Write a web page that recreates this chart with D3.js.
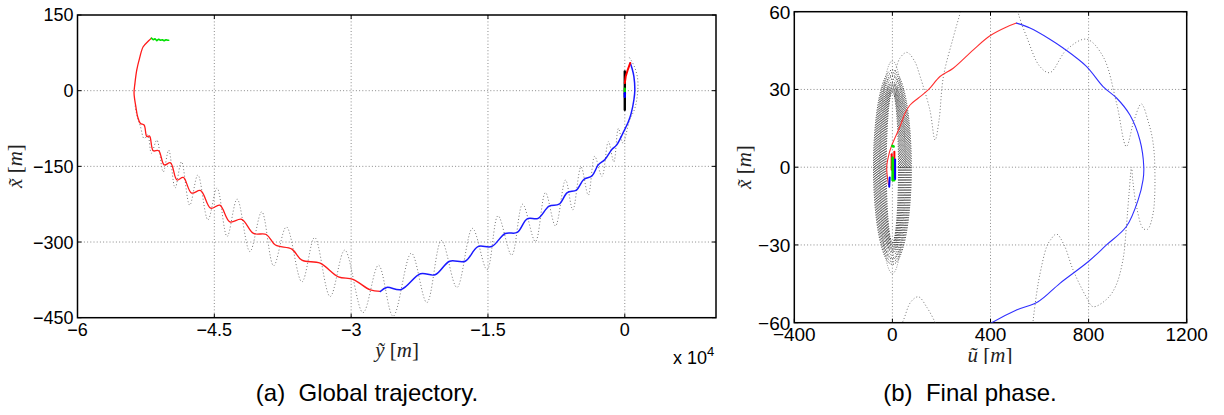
<!DOCTYPE html>
<html><head><meta charset="utf-8">
<script src="https://cdn.jsdelivr.net/npm/d3@7"></script>
<style>body{margin:0;background:#fff}svg{display:block}</style>
</head><body>
<svg id="c" width="1224" height="415"></svg>
<script>
// ---------- data: (a) global trajectory  [ỹ in 1e4 m, x̃ in m] ----------
const globalXTicks = [-6, -4.5, -3, -1.5, 0];
const globalYTicks = [150, 0, -150, -300, -450];
const globalGreen = [[-5.19,104],[-5.17,101],[-5.15,103],[-5.13,99],[-5.11,102],[-5.09,100],[-5.07,101],[-5.05,99],[-5.03,101],[-5.01,100],[-5.0,100]];
const globalRed = [[-5.19,104],[-5.22,99],[-5.28,87],[-5.32,64],[-5.35,41],[-5.37,15],[-5.38,-5],[-5.36,-32],[-5.34,-52],[-5.31,-65],[-5.27,-68],[-5.24,-91],[-5.21,-90],[-5.17,-119],[-5.11,-119],[-5.05,-147],[-4.98,-143],[-4.91,-177],[-4.84,-172],[-4.75,-203],[-4.65,-198],[-4.54,-233],[-4.44,-227],[-4.33,-260],[-4.20,-255],[-4.07,-283],[-3.93,-285],[-3.83,-306],[-3.65,-314],[-3.54,-336],[-3.34,-342],[-3.14,-369],[-2.98,-374],[-2.79,-395],[-2.68,-398]];
const globalBlue = [[-2.68,-398],[-2.61,-390],[-2.45,-394],[-2.24,-363],[-2.08,-365],[-1.92,-338],[-1.75,-338],[-1.61,-309],[-1.46,-309],[-1.31,-283],[-1.18,-281],[-1.07,-254],[-0.95,-253],[-0.83,-229],[-0.72,-225],[-0.63,-202],[-0.53,-197],[-0.45,-176],[-0.36,-169],[-0.29,-147],[-0.22,-137],[-0.14,-116],[-0.09,-108],[-0.02,-84],[0.04,-61],[0.07,-45],[0.10,-18],[0.11,1],[0.10,28],[0.08,44],[0.06,55]];
const globalRedEnd = [[0.06,55],[0.03,40],[0.01,28],[0.0,15]];
const globalBlack = [[0,38],[0,-38]];
const globalGreenEnd = [[0,4],[0,-1]];
const globalBlueEnd = [[0,-5],[0,-12]];
const globalRef = [[-5.37,-30],[-5.34,-55],[-5.31,-71],[-5.27,-95],[-5.23,-88],[-5.19,-124],[-5.13,-98],[-5.06,-161],[-5.00,-118],[-4.93,-193],[-4.86,-141],[-4.77,-227],[-4.68,-167],[-4.57,-256],[-4.47,-193],[-4.36,-289],[-4.25,-215],[-4.11,-319],[-3.98,-240],[-3.85,-347],[-3.71,-270],[-3.54,-379],[-3.40,-291],[-3.23,-408],[-3.07,-316],[-2.87,-440],[-2.70,-346],[-2.54,-447],[-2.34,-322],[-2.17,-420],[-2.01,-297],[-1.84,-390],[-1.67,-273],[-1.51,-355],[-1.39,-248],[-1.24,-326],[-1.12,-225],[-0.98,-299],[-0.87,-202],[-0.76,-268],[-0.65,-177],[-0.57,-236],[-0.48,-151],[-0.40,-207],[-0.33,-130],[-0.25,-170],[-0.18,-101],[-0.12,-141],[-0.07,-75],[-0.02,-104],[0.05,-60],[0.11,-35],[0.14,-5],[0.14,25],[0.10,50],[0.05,66]];

// ---------- data: (b) final phase  [ũ in m, x̃ in m] ----------
const finalXTicks = [-400, 0, 400, 800, 1200];
const finalYTicks = [60, 30, 0, -30, -60];
const finalRed = [[-16,-6.8],[-23,0.2],[-13,5.4],[-3,8.3],[31,15.7],[52,20.9],[72,24],[106,26.7],[147,29.9],[194,35],[248,38.2],[330,45.3],[398,50.7],[466,54.1],[506,55.6]];
const finalBlue = [[506,55.6],[561,53.7],[642,49.4],[696,46],[791,38.9],[859,31.1],[914,26.7],[968,20.2],[1009,10.5],[1025,0.2],[1022,-4.9],[1002,-12.6],[954,-22.9],[873,-30],[798,-36.5],[683,-44.8],[594,-51.9],[506,-55.1],[405,-60],[380,-61.5]];
const clusterRed = [[[8,6],[8,-4]],[[-3,5],[-3,-1]]];
const clusterGreen = [[[0,8.2],[5,8]],[[1,3.6],[1,-4.9]],[[3,-5],[7,-5]]];
const clusterBlue = [[[11,3],[11,-4.6]],[[-13,-7.5],[-11,-4]]];
const refB = [[10,36],[30,42],[59,44.3],[90,41],[113,35],[153,22],[174,10.5],[190,18],[208,35],[248,50],[276,59.5],[285,63]];
const refC = [[505,64],[513,59.5],[547,50.4],[601,38.9],[642,36.5],[710,45.3],[791,49.4],[859,42.7],[914,24.7],[954,8],[985,18],[1015,24.4],[1045,17],[1062,10],[1070,0],[1063,-17.8],[1040,-24],[1022,-23.6],[995,-15],[980,-5],[975,0],[965,-10],[954,-23],[940,-35.8],[910,-46],[873,-51],[818,-53.8],[790,-50],[737,-39.7],[700,-30],[669,-25.8],[645,-28],[629,-30.7],[600,-42],[588,-48.7],[574,-59],[570,-63]];
const refF = [[25,-63],[45,-59],[75,-52],[106,-50],[140,-54],[174,-60],[182,-63]];
const loopRx = [25,29,33,37,41,45,49,53,57,61,65,69,73,77,52];
const loopRy = [29,29.5,30,30.5,31,31.5,32,32.5,33,34,35,35.5,36.5,37.5,41];

// ---------- drawing ----------
const svg = d3.select("#c");
const SANS = "'Liberation Sans', Arial, Helvetica, sans-serif";
const SERIF = "'Liberation Serif', 'DejaVu Serif', serif";
const fmt = v => String(v).replace("-", "\u2212");

function panel(opt) {
  const {id, left, top, right, bottom, xd, yd, xt, yt, fs} = opt;
  const x = d3.scaleLinear().domain(xd).range([left, right]);
  const y = d3.scaleLinear().domain(yd).range([bottom, top]);
  const g = svg.append("g");
  g.append("clipPath").attr("id", id).append("rect")
    .attr("x", left).attr("y", top).attr("width", right - left).attr("height", bottom - top);
  g.selectAll(null).data(xt.filter(v => v > xd[0] && v < xd[1])).join("line")
    .attr("x1", d => x(d)).attr("x2", d => x(d)).attr("y1", top).attr("y2", bottom)
    .attr("stroke", "#8a8a8a").attr("stroke-width", 1).attr("stroke-dasharray", "1,2.2");
  g.selectAll(null).data(yt.filter(v => v > yd[0] && v < yd[1])).join("line")
    .attr("y1", d => y(d)).attr("y2", d => y(d)).attr("x1", left).attr("x2", right)
    .attr("stroke", "#8a8a8a").attr("stroke-width", 1).attr("stroke-dasharray", "1,2.2");
  const tl = 4;
  xt.forEach(v => {
    g.append("line").attr("x1", x(v)).attr("x2", x(v)).attr("y1", bottom).attr("y2", bottom - tl).attr("stroke", "#000");
    g.append("line").attr("x1", x(v)).attr("x2", x(v)).attr("y1", top).attr("y2", top + tl).attr("stroke", "#000");
  });
  yt.forEach(v => {
    g.append("line").attr("y1", y(v)).attr("y2", y(v)).attr("x1", left).attr("x2", left + tl).attr("stroke", "#000");
    g.append("line").attr("y1", y(v)).attr("y2", y(v)).attr("x1", right).attr("x2", right - tl).attr("stroke", "#000");
  });
  g.selectAll(null).data(xt).join("text")
    .attr("x", d => x(d)).attr("y", bottom + 5 + fs * 0.72)
    .attr("text-anchor", "middle").attr("font-family", SANS).attr("font-size", fs).text(fmt);
  g.selectAll(null).data(yt).join("text")
    .attr("x", left - 4).attr("y", d => y(d) + fs * 0.36)
    .attr("text-anchor", "end").attr("font-family", SANS).attr("font-size", fs).text(fmt);
  const plot = svg.append("g").attr("clip-path", `url(#${id})`);
  return {x, y, g, plot};
}

function lineOn(P, data, color, w, curve, dash) {
  const gen = d3.line().x(d => P.x(d[0])).y(d => P.y(d[1])).curve(curve || d3.curveLinear);
  const p = P.plot.append("path").attr("d", gen(data)).attr("fill", "none")
    .attr("stroke", color).attr("stroke-width", w).attr("stroke-linejoin", "round").attr("stroke-linecap", "round");
  if (dash) p.attr("stroke-dasharray", dash).attr("stroke-linecap", "butt");
  return p;
}

function axLabel(sel, x, y, letter, rotate, fs) {
  const t = sel.append("text").attr("font-family", SERIF).attr("font-size", fs)
    .attr("text-anchor", "middle").attr("fill", "#222");
  if (rotate) t.attr("transform", `translate(${x},${y}) rotate(-90)`);
  else t.attr("x", x).attr("y", y);
  t.append("tspan").attr("font-style", "italic").text(letter + "\u0303");
  t.append("tspan").text(" [");
  t.append("tspan").attr("font-style", "italic").text("m");
  t.append("tspan").text("]");
  return t;
}

// ---- panel (a) ----
const A = panel({id: "ca", left: 77.5, top: 15, right: 716, bottom: 317.7,
  xd: [-6, 1], yd: [-450, 150], xt: globalXTicks, yt: globalYTicks, fs: 18});
lineOn(A, globalRef, "#777", 1, d3.curveCatmullRom.alpha(0.5), "1,2.2");
lineOn(A, globalRed, "#ff1a1a", 1.3, d3.curveCatmullRom.alpha(0.5));
lineOn(A, globalGreen, "#00e000", 1.6);
lineOn(A, globalBlue, "#1a1aff", 1.5, d3.curveCatmullRom.alpha(0.5));
lineOn(A, globalBlack, "#000", 2.4);
lineOn(A, globalRedEnd, "#ff0000", 2);
lineOn(A, globalGreenEnd, "#00d000", 2.4);
lineOn(A, globalBlueEnd, "#0000ff", 2.4);
A.g.append("rect").attr("x", 77.5).attr("y", 15).attr("width", 716 - 77.5).attr("height", 317.7 - 15)
  .attr("fill", "none").attr("stroke", "#000").attr("stroke-width", 1.5);
axLabel(A.g, 397, 357, "y", false, 21);
axLabel(A.g, 22, 166, "x", true, 21);
const sx = A.g.append("text").attr("x", 673).attr("y", 364).attr("font-family", SANS).attr("font-size", 18);
sx.append("tspan").text("x 10");
sx.append("tspan").attr("dy", -8).attr("font-size", 13).text("4");
svg.append("text").attr("x", 367).attr("y", 401).attr("text-anchor", "middle")
  .attr("font-family", SANS).attr("font-size", 24).attr("xml:space", "preserve").text("(a)  Global trajectory.");

// ---- panel (b) ----
const B = panel({id: "cb", left: 794.3, top: 11.7, right: 1186.7, bottom: 322.7,
  xd: [-400, 1200], yd: [-60, 60], xt: finalXTicks, yt: finalYTicks, fs: 19});
B.plot.selectAll(null).data(loopRx).join("ellipse")
  .attr("cx", B.x(0)).attr("cy", B.y(0))
  .attr("rx", d => B.x(d) - B.x(0)).attr("ry", (d, i) => B.y(0) - B.y(loopRy[i]))
  .attr("fill", "none").attr("stroke", (d, i) => i === loopRx.length - 1 ? "#888" : "#222")
  .attr("stroke-width", 1).attr("stroke-dasharray", "1,1.5");
lineOn(B, refB, "#777", 1, d3.curveCatmullRom.alpha(0.5), "1,2.2");
lineOn(B, refC, "#777", 1, d3.curveCatmullRom.alpha(0.5), "1,2.2");
lineOn(B, refF, "#777", 1, d3.curveCatmullRom.alpha(0.5), "1,2.2");
lineOn(B, finalRed, "#ff3030", 1.1, d3.curveCatmullRom.alpha(0.5));
lineOn(B, finalBlue, "#3030ff", 1.1, d3.curveCatmullRom.alpha(0.5));
clusterRed.forEach(s => lineOn(B, s, "#ff0000", 2));
clusterGreen.forEach(s => lineOn(B, s, "#00e000", 2.6));
clusterBlue.forEach(s => lineOn(B, s, "#0000ff", 2));
B.g.append("rect").attr("x", 794.3).attr("y", 11.7).attr("width", 1186.7 - 794.3).attr("height", 322.7 - 11.7)
  .attr("fill", "none").attr("stroke", "#000").attr("stroke-width", 1.5);
axLabel(B.g, 751, 167, "x", true, 21);
svg.append("clipPath").attr("id", "ulab").append("rect").attr("x", 900).attr("y", 330).attr("width", 200).attr("height", 34);
axLabel(svg.append("g").attr("clip-path", "url(#ulab)"), 990, 362, "u", false, 21);
svg.append("text").attr("x", 970).attr("y", 401).attr("text-anchor", "middle")
  .attr("font-family", SANS).attr("font-size", 24).attr("xml:space", "preserve").text("(b)  Final phase.");
</script>
</body></html>
